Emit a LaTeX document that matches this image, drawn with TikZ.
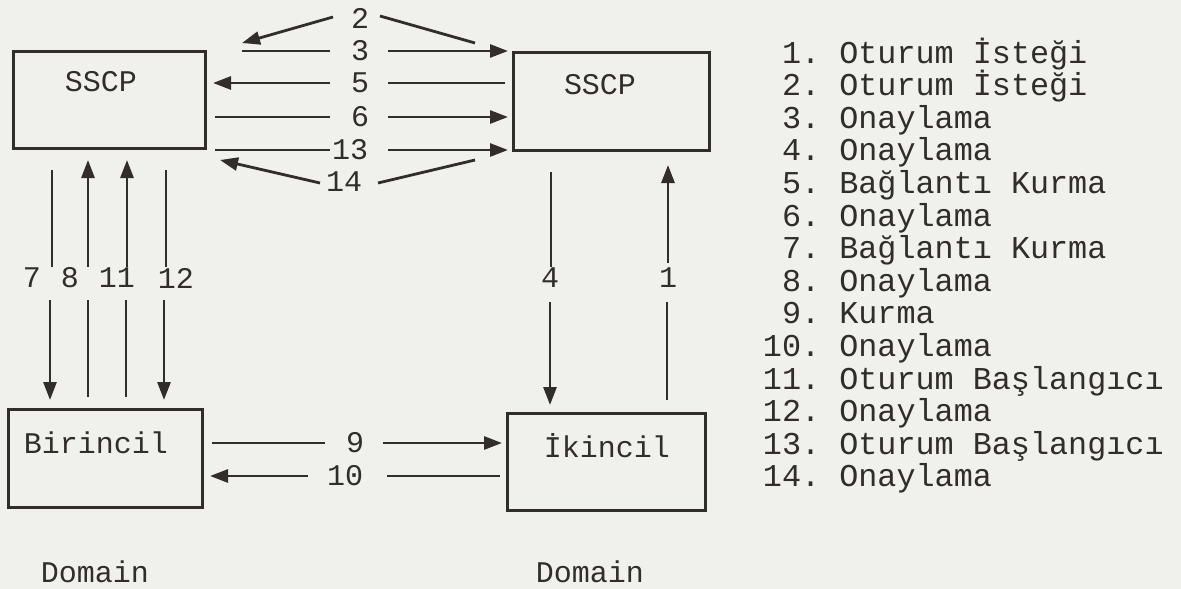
\documentclass[tikz,border=0pt]{standalone}
\usepackage{fontspec}
\setmainfont{Liberation Mono}
\usetikzlibrary{arrows.meta}
\definecolor{paper}{RGB}{240,241,236}
\definecolor{ink}{RGB}{48,45,42}
\begin{document}
\begin{tikzpicture}[x=1pt,y=-1pt,
  box/.style={draw=ink,line width=3pt,inner sep=0pt},
  lbl/.style={text=ink,font=\fontsize{30}{30}\selectfont,inner sep=0pt},
  leg/.style={text=ink,font=\fontsize{31.8}{33}\selectfont,inner sep=0pt,anchor=base west},
  ln/.style={draw=ink,line width=2.8pt},
  arr/.style={ln,-{Triangle[length=18pt,width=13pt]}}
]
\fill[paper] (0,0) rectangle (1181,589);
\useasboundingbox (0,0) rectangle (1181,589);

% boxes
\node[box,minimum width=192pt,minimum height=97pt] (sscpL) at (109,99.5) {};
\node[box,minimum width=196pt,minimum height=98pt] (sscpR) at (611,101) {};
\node[box,minimum width=194pt,minimum height=98pt] (bir) at (105,458) {};
\node[box,minimum width=198pt,minimum height=97pt] (ikn) at (606,461.5) {};
\node[lbl] (tsscpL) at (101,82) {SSCP};
\node[lbl] (tsscpR) at (600,85) {SSCP};
\node[lbl] (tbir) at (96,443) {Birincil};
\node[lbl] (tikn) at (607,446) {İkincil};
\node[lbl] (domL) at (95,572) {Domain};
\node[lbl] (domR) at (590,572) {Domain};

% connector labels
\foreach \n/\x/\y in {2/360/18,3/360/51,5/360/83,6/360/117,13/350/150,14/344/182,
  7/32/278,8/70/278,11/117/278,12/176/278,4/550/278,1/668/278,9/355/443,10/345/476}
  \node[lbl] (n\n) at (\x,\y) {\n};

% connector end points
\foreach \n/\x/\y in {
  p2a/333/17,p2b/242/43,p2c/380/16,p2d/475/43,
  p3a/242/51,p3b/330/51,p3c/388/51,p3d/508/51,
  p5a/330/83,p5b/213/83,p5c/388/83,p5d/505/83,
  p6a/215/117,p6b/330/117,p6c/388/117,p6d/508/117,
  p13a/215/150,p13b/330/150,p13c/388/150,p13d/508/150,
  p14a/320/183,p14b/220/160,p14c/378/183,p14d/475/160,
  p7a/52/170,p7b/52/267,p7c/50/300,p7d/50/400,
  p8a/88/267,p8b/88/160,p8c/88/300,p8d/88/397,
  p11a/127/267,p11b/127/160,p11c/126/300,p11d/126/397,
  p12a/166/170,p12b/166/267,p12c/164/300,p12d/164/400,
  p4a/551/172,p4b/551/267,p4c/550/302,p4d/550/405,
  p1a/668/263,p1b/668/165,p1c/667/302,p1d/667/400,
  p9a/212/443,p9b/325/443,p9c/383/443,p9d/502/443,
  p10a/308/476,p10b/210/476,p10c/387/476,p10d/500/476}
  \coordinate (\n) at (\x,\y);

% connectors
\draw[arr] (p2a) -- (p2b);   \draw[ln] (p2c) -- (p2d);
\draw[ln] (p3a) -- (p3b);    \draw[arr] (p3c) -- (p3d);
\draw[arr] (p5a) -- (p5b);   \draw[ln] (p5c) -- (p5d);
\draw[ln] (p6a) -- (p6b);    \draw[arr] (p6c) -- (p6d);
\draw[ln] (p13a) -- (p13b);  \draw[arr] (p13c) -- (p13d);
\draw[arr] (p14a) -- (p14b); \draw[ln] (p14c) -- (p14d);
\draw[ln] (p7a) -- (p7b);    \draw[arr] (p7c) -- (p7d);
\draw[arr] (p8a) -- (p8b);   \draw[ln] (p8c) -- (p8d);
\draw[arr] (p11a) -- (p11b); \draw[ln] (p11c) -- (p11d);
\draw[ln] (p12a) -- (p12b);  \draw[arr] (p12c) -- (p12d);
\draw[ln] (p4a) -- (p4b);    \draw[arr] (p4c) -- (p4d);
\draw[arr] (p1a) -- (p1b);   \draw[ln] (p1c) -- (p1d);
\draw[ln] (p9a) -- (p9b);    \draw[arr] (p9c) -- (p9d);
\draw[arr] (p10a) -- (p10b); \draw[ln] (p10c) -- (p10d);

% legend
\foreach \k/\t [count=\i from 0] in {1/Oturum İsteği,2/Oturum İsteği,3/Onaylama,4/Onaylama,
  5/Bağlantı Kurma,6/Onaylama,7/Bağlantı Kurma,8/Onaylama,9/Kurma,10/Onaylama,
  11/Oturum Başlangıcı,12/Onaylama,13/Oturum Başlangıcı,14/Onaylama}
  \node[leg] (leg\k) at (820,63+32.6*\i) {\llap{\k.} \t};
\end{tikzpicture}
\end{document}
